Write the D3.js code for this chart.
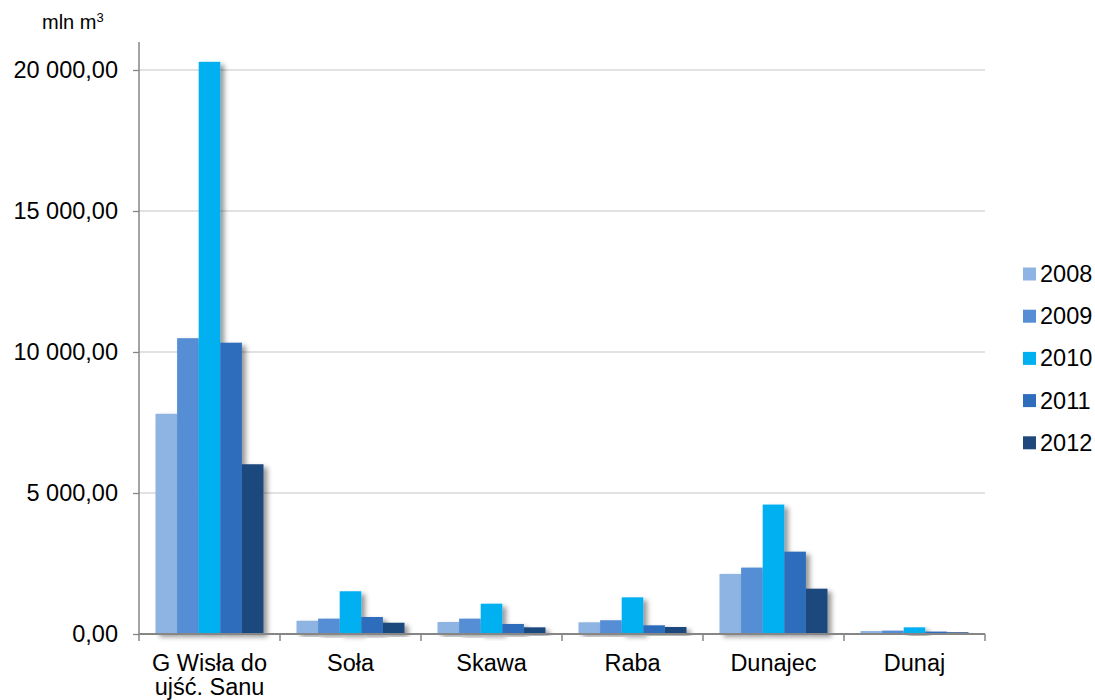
<!DOCTYPE html>
<html>
<head>
<meta charset="utf-8">
<script src="https://cdn.jsdelivr.net/npm/d3@7"></script>
<style>
  html, body { margin: 0; padding: 0; background: #fff; }
  svg { display: block; font-family: "Liberation Sans", Arial, sans-serif; }
</style>
</head>
<body>
<svg id="chart" width="1095" height="700"></svg>
<script>
// Rivers (categories) and yearly values, mln m³
const categories = ["G Wisła do\nujść. Sanu", "Soła", "Skawa", "Raba", "Dunajec", "Dunaj"];
const years = ["2008", "2009", "2010", "2011", "2012"];
const values2008 = [7810, 470, 425, 415, 2130, 105];
const values2009 = [10490, 545, 545, 488, 2355, 120];
const values2010 = [20290, 1515, 1075, 1300, 4590, 236];
const values2011 = [10330, 603, 355, 308, 2920, 85];
const values2012 = [6020, 400, 236, 248, 1607, 60];
const yTicks = [0, 5000, 10000, 15000, 20000];
const colors = ["#8EB4E3", "#558ED5", "#00B0F0", "#2E6DBC", "#1F497D"];

const series = [values2008, values2009, values2010, values2011, values2012];

const svg = d3.select("#chart");
const plotLeft = 139, plotRight = 985, plotTop = 42, plotBottom = 634;
const fontSize = 23.5;

const y = d3.scaleLinear().domain([0, 20000]).range([plotBottom, plotBottom - 564]);
const x0 = d3.scaleBand().domain(d3.range(categories.length)).range([plotLeft, plotRight]).padding(0);
const x1 = d3.scaleBand().domain(years).range([16.5, x0.bandwidth() - 16.5]).padding(0);
const color = d3.scaleOrdinal().domain(years).range(colors);

// soft drop shadow for the bars
const defs = svg.append("defs");
const f = defs.append("filter").attr("id", "shadow")
  .attr("x", "-50%").attr("y", "-10%").attr("width", "200%").attr("height", "130%");
f.append("feDropShadow").attr("dx", 4).attr("dy", 3).attr("stdDeviation", 2.4)
  .attr("flood-color", "#000").attr("flood-opacity", 0.4);

// gridlines
svg.append("g").selectAll("line").data(yTicks.filter(d => d > 0)).join("line")
  .attr("x1", plotLeft).attr("x2", plotRight)
  .attr("y1", d => y(d)).attr("y2", d => y(d))
  .attr("stroke", "#D9D9D9").attr("stroke-width", 1.3);

// y axis
const yAxis = svg.append("g").attr("transform", `translate(${plotLeft},0)`)
  .call(d3.axisLeft(y).tickValues(yTicks).tickSize(6).tickPadding(15)
    .tickFormat(d => d3.format(",.2f")(d).replace(/,/g, " ").replace(".", ",")));
yAxis.select(".domain").remove();
yAxis.selectAll(".tick line").attr("stroke", "#868686").attr("stroke-width", 1.3);
yAxis.selectAll(".tick text").attr("font-size", fontSize).attr("fill", "#000")
  .attr("font-family", "'Liberation Sans', Arial, sans-serif");
svg.append("line").attr("x1", plotLeft).attr("x2", plotLeft).attr("y1", plotTop).attr("y2", plotBottom)
  .attr("stroke", "#868686").attr("stroke-width", 1.5);

// bars
const groups = svg.append("g").selectAll("g").data(categories).join("g")
  .attr("transform", (d, i) => `translate(${x0(i)},0)`);
groups.selectAll("rect")
  .data((d, i) => years.map((yr, k) => ({ yr, v: series[k][i] })))
  .join("rect")
  .attr("x", d => x1(d.yr))
  .attr("width", x1.bandwidth())
  .attr("y", d => y(d.v))
  .attr("height", d => plotBottom - y(d.v))
  .attr("fill", d => color(d.yr))
  .attr("filter", "url(#shadow)");

// x axis
const xAxis = svg.append("g").attr("transform", `translate(0,${plotBottom})`);
xAxis.append("line").attr("x1", plotLeft).attr("x2", plotRight).attr("stroke", "#868686").attr("stroke-width", 2);
xAxis.selectAll(".tk").data(d3.range(categories.length + 1)).join("line").attr("class", "tk")
  .attr("x1", i => plotLeft + i * x0.bandwidth()).attr("x2", i => plotLeft + i * x0.bandwidth())
  .attr("y1", 0).attr("y2", 7).attr("stroke", "#868686").attr("stroke-width", 1.5);
const labels = xAxis.selectAll(".lbl").data(categories).join("text").attr("class", "lbl")
  .attr("x", (d, i) => x0(i) + x0.bandwidth() / 2)
  .attr("text-anchor", "middle").attr("font-size", fontSize).attr("fill", "#000");
labels.each(function (d) {
  const t = d3.select(this);
  d.split("\n").forEach((line, j) => {
    t.append("tspan").attr("x", t.attr("x")).attr("y", 37 + j * 24).text(line);
  });
});

// unit label
const unit = svg.append("text").attr("x", 42).attr("y", 29).attr("font-size", 20).attr("fill", "#000");
unit.append("tspan").text("mln m");
unit.append("tspan").attr("font-size", 13).attr("dy", -7).text("3");

// legend
const legend = svg.append("g").selectAll("g").data(years).join("g")
  .attr("transform", (d, i) => `translate(1023,${274 + i * 42.2})`);
legend.append("rect").attr("x", 0).attr("y", -6.5).attr("width", 13).attr("height", 13)
  .attr("fill", d => color(d));
legend.append("text").attr("x", 17).attr("y", 8).attr("font-size", fontSize).attr("fill", "#000").text(d => d);
</script>
</body>
</html>
